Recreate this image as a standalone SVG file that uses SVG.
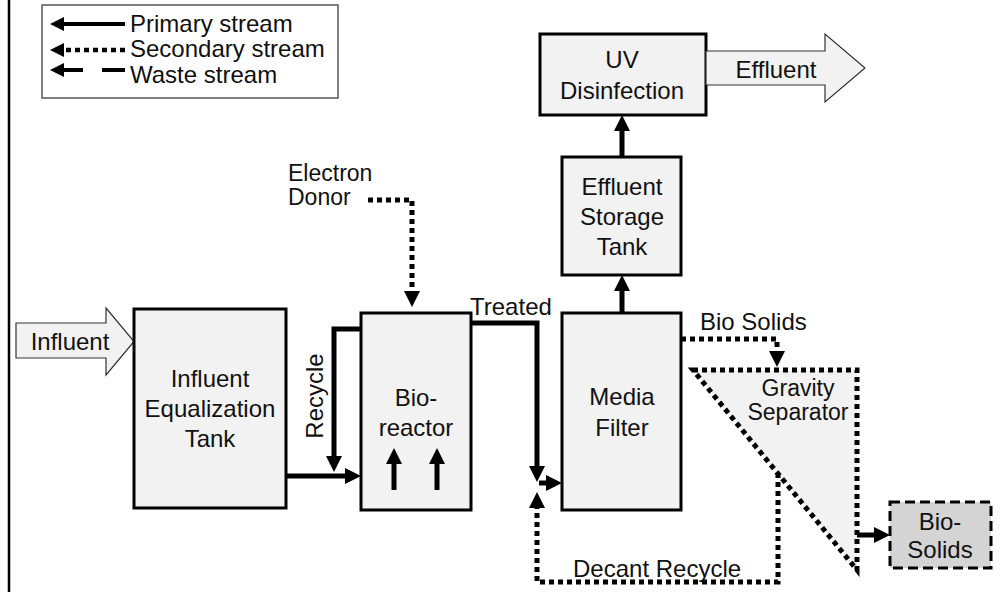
<svg xmlns="http://www.w3.org/2000/svg" width="1003" height="592" viewBox="0 0 1003 592">
<defs>
<marker id="ah" viewBox="0 0 16 16" refX="4" refY="8" markerWidth="16" markerHeight="16" markerUnits="userSpaceOnUse" orient="auto">
<path d="M0,0 L16,8 L0,16 z" fill="#000"/>
</marker>
<marker id="ahs" viewBox="0 0 14 14" refX="4" refY="7" markerWidth="14" markerHeight="14" markerUnits="userSpaceOnUse" orient="auto">
<path d="M0,0 L14,7 L0,14 z" fill="#000"/>
</marker>
</defs>
<style>
text{font-family:"Liberation Sans",Arial,Helvetica,sans-serif;font-size:24px;fill:#111}
.c{text-anchor:middle}
.t{font-size:23px}
.box{fill:#f2f2f2;stroke:#000;stroke-width:3}
.blk{fill:#f2f2f2;stroke:#333;stroke-width:1.2}
.pri{fill:none;stroke:#000;stroke-width:5}
.sec{fill:none;stroke:#000;stroke-width:5;stroke-dasharray:5 4}
.was{fill:none;stroke:#000;stroke-width:5}
</style>
<rect width="1003" height="592" fill="#fff"/>
<line x1="9" y1="0" x2="9" y2="592" stroke="#000" stroke-width="2.5"/>

<g id="legend">
<rect x="42" y="5" width="296" height="93" fill="#fff" stroke="#555" stroke-width="1.5"/>
<line x1="125" y1="24" x2="60" y2="24" stroke="#000" stroke-width="4" marker-end="url(#ahs)"/>
<line x1="125" y1="50" x2="60" y2="50" stroke="#000" stroke-width="4.5" stroke-dasharray="5 4" marker-end="url(#ahs)"/>
<line x1="83" y1="70" x2="60" y2="70" stroke="#000" stroke-width="4" marker-end="url(#ahs)"/>
<line x1="102" y1="70" x2="125" y2="70" stroke="#000" stroke-width="4"/>
<text x="130" y="32">Primary stream</text>
<text x="130" y="57">Secondary stream</text>
<text x="130" y="83">Waste stream</text>
</g>

<g id="influent">
<path class="blk" d="M16,323 H106 V308 L134,341.5 L106,375 V358 H16 Z"/>
<text x="70" y="350" class="c">Influent</text>
</g>

<g id="eq-tank">
<rect class="box" x="134" y="309" width="152" height="199"/>
<text x="210" y="387" class="c">Influent</text>
<text x="210" y="417" class="c">Equalization</text>
<text x="210" y="447" class="c">Tank</text>
</g>

<g id="bioreactor">
<rect class="box" x="361" y="313" width="110" height="197"/>
<text x="416" y="406" class="c">Bio-</text>
<text x="416" y="436" class="c">reactor</text>
</g>

<g id="media-filter">
<rect class="box" x="562" y="313" width="119" height="197"/>
<text x="622" y="405" class="c">Media</text>
<text x="622" y="436" class="c">Filter</text>
</g>

<g id="storage-tank">
<rect class="box" x="562" y="157" width="119" height="118"/>
<text x="622" y="195" class="c">Effluent</text>
<text x="622" y="225" class="c">Storage</text>
<text x="622" y="255" class="c">Tank</text>
</g>

<g id="uv">
<rect class="box" x="540" y="34" width="166" height="81"/>
<text x="622" y="68" class="c">UV</text>
<text x="622" y="99" class="c">Disinfection</text>
</g>

<g id="effluent">
<path class="blk" d="M706,51 H825 V34 L865,68 L825,102 V85 H706 Z"/>
<text x="776" y="78" class="c">Effluent</text>
</g>

<g id="gravity-separator">
<polygon points="693,370 857,370 857,570" fill="#f2f2f2" stroke="#000" stroke-width="5" stroke-dasharray="5 4"/>
<text x="798" y="396" class="c t">Gravity</text>
<text x="798" y="420" class="c t">Separator</text>
</g>

<g id="bio-solids">
<rect x="890" y="502" width="101" height="66" fill="#d4d4d4" stroke="#000" stroke-width="3" stroke-dasharray="10 5"/>
<text x="940" y="530" class="c">Bio-</text>
<text x="940" y="558" class="c">Solids</text>
</g>

<g id="electron-donor">
<text x="288" y="181" class="t">Electron</text>
<text x="288" y="205" class="t">Donor</text>
</g>

<g id="connectors">
<path class="pri" d="M286,476 H349" marker-end="url(#ah)"/>
<path class="pri" d="M361,329 H334 V460" marker-end="url(#ah)"/>
<path class="pri" d="M471,323 H537 V470" marker-end="url(#ah)"/>
<path class="pri" d="M539,483 H550" marker-end="url(#ah)"/>
<path class="pri" d="M622,313 V287" marker-end="url(#ah)"/>
<path class="pri" d="M622,157 V127" marker-end="url(#ah)"/>
<path class="pri" d="M394,490 V460" marker-end="url(#ah)"/>
<path class="pri" d="M437,490 V460" marker-end="url(#ah)"/>
<path class="sec" d="M368,200 H412 V295" marker-end="url(#ah)"/>
<path class="sec" d="M681,339 H777 V355" marker-end="url(#ah)"/>
<path class="sec" d="M778,473 V582 H537 V504" marker-end="url(#ah)"/>
<path class="was" d="M857,535 H878" marker-end="url(#ah)"/>
<text x="322.5" y="396" class="c" transform="rotate(-90 322.5 396)">Recycle</text>
<text x="470" y="315">Treated</text>
<text x="700" y="330">Bio Solids</text>
<text x="573" y="577">Decant Recycle</text>
</g>
</svg>
